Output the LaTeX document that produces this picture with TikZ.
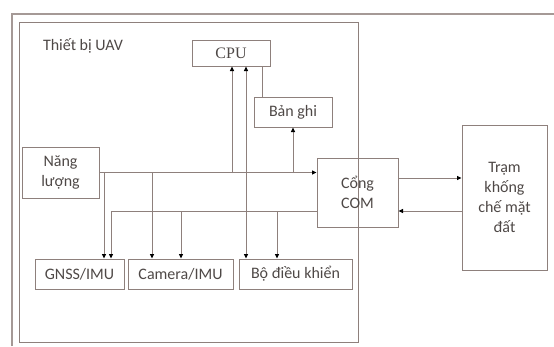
\documentclass[tikz,border=0pt]{standalone}
\usepackage{fontspec}
\setmainfont{Carlito}
\newfontfamily\cpufont{Liberation Serif}
\usetikzlibrary{arrows.meta}
\definecolor{linegray}{RGB}{142,128,124}
\definecolor{textgray}{RGB}{78,72,70}
\tikzset{
 blk/.style={draw=linegray, line width=1pt, text=textgray, align=center, inner sep=0pt},
 wire/.style={draw=linegray, line width=1pt},
 arr/.style={wire, -{Triangle[length=4.5pt,width=4pt,color=black]}},
 arrs/.style={wire, {Triangle[length=4.5pt,width=4pt,color=black]}-{Triangle[length=4.5pt,width=4pt,color=black]}}
}
\begin{document}
\begin{tikzpicture}[x=1pt, y=-1pt, font=\fontsize{16}{20}\selectfont]
 \useasboundingbox (0,0) rectangle (554,346);
 % outer frame
 \draw[wire, line width=1.6pt, draw=linegray!80] (12,346) -- (12,14) -- (554,14);

 % UAV box and its parts
 \node[blk, minimum width=339pt, minimum height=320pt] (uav) at (188.5,182) {};
 \node[text=textgray] (uavlbl) at (83,46) {Thiết bị UAV};
 \node[blk, minimum width=78pt, minimum height=26pt, font=\cpufont\fontsize{16}{20}\selectfont] (cpu) at (231,53) {CPU};
 \node[blk, minimum width=78pt, minimum height=30pt] (bangi) at (293,112) {Bản ghi};
 \node[blk, minimum width=77pt, minimum height=51pt] (nangluong) at (60.5,172.5) {Năng\\lượng};
 \node[blk, minimum width=81pt, minimum height=69pt] (com) at (357.5,192.5) {Cổng\\COM};
 \node[blk, minimum width=89pt, minimum height=30pt] (gnss) at (79.5,274) {GNSS/IMU};
 \node[blk, minimum width=105pt, minimum height=30pt] (cam) at (180.5,274) {Camera/IMU};
 \node[blk, minimum width=113pt, minimum height=30pt] (bodk) at (295.5,274) {Bộ điều khiển};

 % ground station
 \node[blk, minimum width=85pt, minimum height=145pt] (tram) at (504.5,197.5) {Trạm\\khống\\chế mặt\\đất};

 % bus taps
 \coordinate (p1) at (104,173);
 \coordinate (p2) at (152,173);
 \coordinate (p3) at (232,173);
 \coordinate (p4) at (293,173);
 \coordinate (d1) at (111,211);
 \coordinate (d2) at (181,211);
 \coordinate (d3) at (277,211);
 \coordinate (c1) at (246,0);
 \coordinate (c2) at (262,0);
 \coordinate (t1) at (0,178);
 \coordinate (t2) at (0,211);

 % power bus
 \draw[arr] (nangluong.east) -- (nangluong.east -| com.west);
 \draw[arr] (p1) -- (p1 |- gnss.north);
 \draw[arr] (p2) -- (p2 |- cam.north);
 \draw[arr] (p3) -- (p3 |- cpu.south);
 \draw[arr] (p4) -- (p4 |- bangi.south);

 % data bus
 \draw[wire] (d1 -| com.west) -- (d1);
 \draw[arr] (d1) -- (d1 |- gnss.north);
 \draw[arr] (d2) -- (d2 |- cam.north);
 \draw[arr] (d3) -- (d3 |- bodk.north);

 % CPU links
 \draw[arrs] (cpu.south -| c1) -- (bodk.north -| c1);
 \draw[wire] (cpu.south -| c2) -- (bangi.north -| c2);

 % COM <-> ground station
 \draw[arr] (com.east |- t1) -- (tram.west |- t1);
 \draw[arr] (tram.west |- t2) -- (com.east |- t2);
\end{tikzpicture}
\end{document}
